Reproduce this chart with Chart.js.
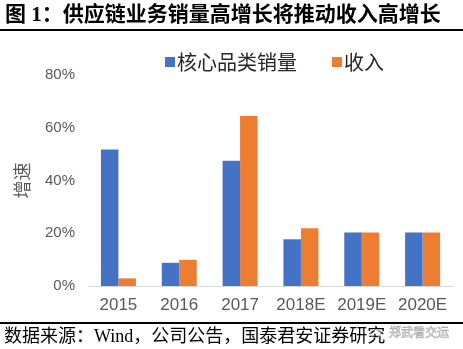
<!DOCTYPE html>
<html>
<head>
<meta charset="utf-8">
<script src="https://cdn.jsdelivr.net/npm/chart.js@4.4.0/dist/chart.umd.min.js"></script>
<style>
  html, body { margin: 0; padding: 0; background: #fff; }
  #wrap { position: relative; width: 463px; height: 349px; overflow: hidden; }
  #chart { position: absolute; left: 0; top: 0; }
  .title {
    position: absolute; left: 5px; top: 4px;
    font: bold 21px "Liberation Serif", "Noto Sans CJK SC";
    line-height: 21px; white-space: nowrap; color: #000;
  }
  .rule { position: absolute; left: 0; width: 463px; background: #000; }
  .source {
    position: absolute; left: 4px; top: 327px;
    font: 18px "Liberation Serif", "Noto Sans CJK SC";
    line-height: 18px; white-space: nowrap; color: #000;
  }
  .mark {
    position: absolute; left: 370px; top: 325px;
    font: 12px "Noto Sans CJK SC"; line-height: 13px; white-space: nowrap;
    color: #fff; -webkit-text-stroke: 0.5px #9a9a9a;
    text-shadow: 0 0 2px #fff;
  }
  .mark i {
    display: inline-block; width: 9px; height: 7px; margin-right: 8px;
    border: 1px solid #b0b0b0; border-radius: 50%; vertical-align: middle;
  }
</style>
</head>
<body>
<div id="wrap">
  <canvas id="chart" width="463" height="349"></canvas>
  <div class="title">图 1：供应链业务销量高增长将推动收入高增长</div>
  <div class="rule" style="top:29px;height:2px"></div>
  <div class="rule" style="top:322px;height:1.5px"></div>
  <div class="source">数据来源：Wind，公司公告，国泰君安证券研究</div>
  <div class="mark"><i></i>郑武看交运</div>
</div>
<script>
// growth rates, %
const years = ['2015', '2016', '2017', '2018E', '2019E', '2020E'];
const coreVolume = [51.8, 8.8, 47.5, 17.7, 20.3, 20.3];
const revenue = [2.9, 9.9, 64.5, 21.9, 20.3, 20.3];
const yTicks = [0, 20, 40, 60, 80];

const BLUE = '#4472C4';
const ORANGE = '#ED7D31';
const GREY = '#595959';

// legend row above the plot, drawn from the datasets
const topLegend = {
    id: 'topLegend',
    afterDraw(chart) {
        const ctx = chart.ctx;
        ctx.save();
        ctx.font = '20px "Noto Sans CJK SC"';
        ctx.textBaseline = 'middle';
        let x = 165;
        chart.data.datasets.forEach(ds => {
            ctx.fillStyle = ds.backgroundColor;
            ctx.fillRect(x, 57, 10, 10);
            ctx.fillStyle = '#262626';
            ctx.fillText(ds.label, x + 12, 62.5);
            x += 12 + ctx.measureText(ds.label).width + 35;
        });
        ctx.restore();
    }
};

new Chart(document.getElementById('chart'), {
    type: 'bar',
    data: {
        labels: years,
        datasets: [
            { label: '核心品类销量', data: coreVolume, backgroundColor: BLUE },
            { label: '收入', data: revenue, backgroundColor: ORANGE }
        ]
    },
    options: {
        responsive: false,
        animation: false,
        categoryPercentage: 0.575,
        barPercentage: 1,
        layout: { padding: { top: 75, right: 10, bottom: 0, left: 0 } },
        plugins: {
            legend: { display: false },
            tooltip: { enabled: false }
        },
        scales: {
            x: {
                grid: { display: false, drawTicks: false },
                border: { display: true, color: '#d9d9d9', width: 1 },
                ticks: {
                    color: GREY,
                    padding: 9,
                    font: { family: 'Liberation Sans', size: 17 }
                },
                afterFit: s => { s.height = 63; }
            },
            y: {
                min: 0,
                max: 80,
                afterBuildTicks: s => { s.ticks = yTicks.map(v => ({ value: v })); },
                grid: { display: false, drawTicks: false },
                border: { display: false },
                ticks: {
                    color: GREY,
                    padding: 13,
                    font: { family: 'Liberation Sans', size: 15 },
                    callback: v => v + '%'
                },
                title: {
                    display: true,
                    text: '增速',
                    color: GREY,
                    padding: { top: 11, bottom: 0 },
                    font: { family: 'Noto Sans CJK SC', size: 18 }
                },
                afterFit: s => { s.width = 88; }
            }
        }
    },
    plugins: [topLegend]
});
</script>
</body>
</html>
